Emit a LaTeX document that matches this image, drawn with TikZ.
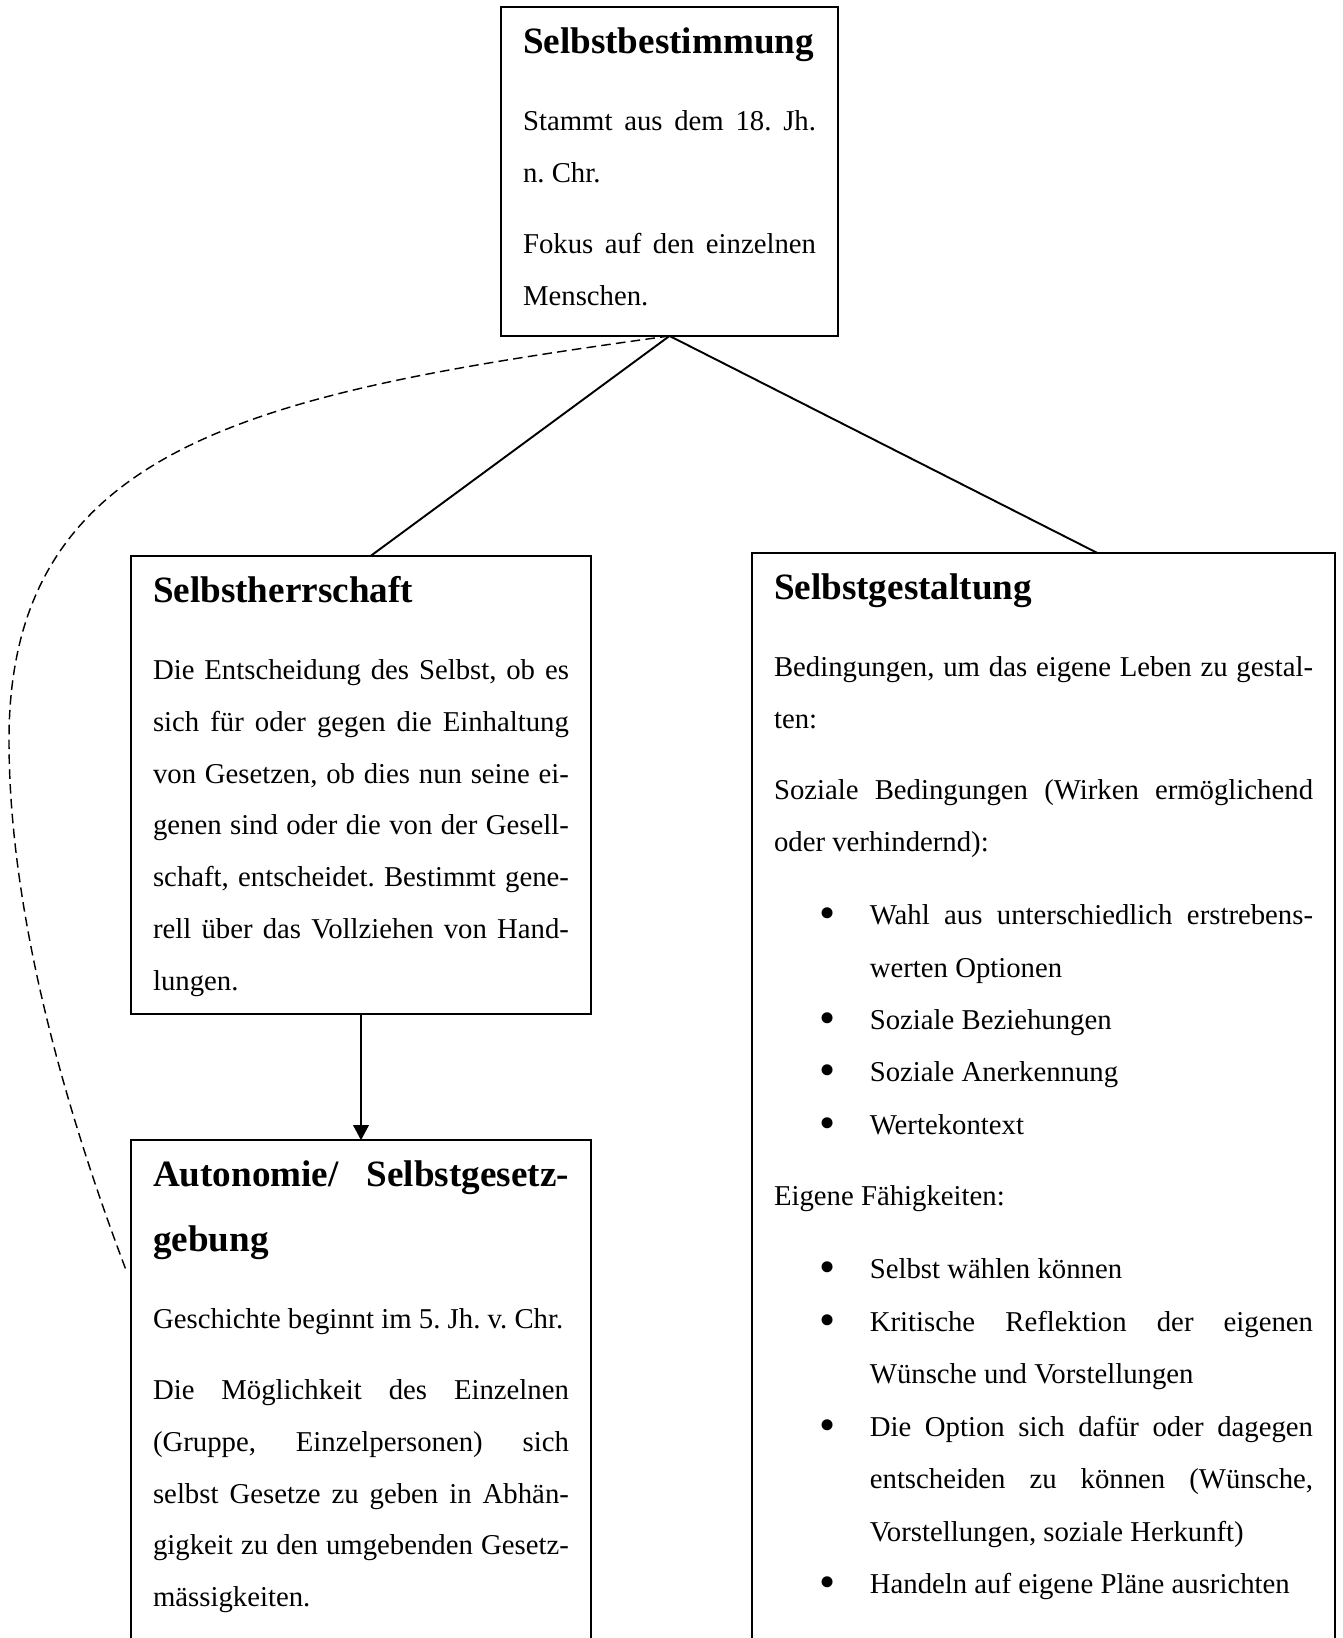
\documentclass[tikz,border=0pt]{standalone}
\usepackage{graphicx}
\usepackage{fontspec}
\setmainfont{Liberation Serif}[Ligatures={TeX,NoCommon}]
\usetikzlibrary{
  arrows.meta,
  calc,
  positioning,
}
\tikzset{
  >={Triangle[width=6.5pt, length=6.3pt]},
  kasten/.style={draw, line width=0.8pt, inner xsep=9.2pt, inner ysep=0pt,
    outer sep=0pt, anchor=north west},
  linie/.style={line width=0.8pt},
  bezug/.style={line width=0.6pt, dash pattern=on 4pt off 2.2pt},
}
\newcommand{\inhalt}[3]{\parbox[t][#2][t]{#1}{\fontsize{12}{21.6}\selectfont
  \frenchspacing\setlength{\parskip}{8pt}\hyphenpenalty=10000 #3}}
\newcommand{\titel}[1]{{\fontsize{15.5}{27.1}\selectfont\bfseries
  \rule{0pt}{19.2pt}#1\par}\vspace{2.8pt}}
\newenvironment{punkte}{\par\vspace{8.8pt}\setlength{\parskip}{0pt}%
  \setlength{\baselineskip}{21.9pt}\setlength{\leftskip}{40pt}}{\par}
\newcommand{\punkt}{\par\noindent
  \llap{\raisebox{-1.6pt}{\scalebox{1.6}{\textbullet}}\hspace{14.5pt}}}

\begin{document}
\begin{tikzpicture}
  \useasboundingbox (0, 0) rectangle (19.702, 24.030);
  \clip (0, 0) rectangle (19.702, 24.030);

  \node [kasten] (bestimmung) at (7.350, 23.927) {\inhalt{122.3pt}{137.3pt}{%
    \titel{Selbstbestimmung}
    Stammt aus dem 18. Jh.\linebreak n. Chr.\par
    Fokus auf den einzelnen\linebreak Menschen.}};

  \node [kasten] (herrschaft) at (1.922, 15.873) {\inhalt{173.6pt}{191.2pt}{%
    \titel{Selbstherrschaft}
    Die Entscheidung des Selbst, ob es\linebreak sich für oder gegen die
    Einhaltung\linebreak von Gesetzen, ob dies nun seine ei-\linebreak genen
    sind oder die von der Gesell-\linebreak schaft, entscheidet. Bestimmt
    gene-\linebreak rell über das Vollziehen von Hand-\linebreak lungen.}};

  \node [kasten, below=1.85cm of herrschaft] (autonomie) {\inhalt{173.6pt}{240pt}{%
    \titel{Autonomie/ Selbstgesetz-\linebreak gebung}
    Geschichte beginnt im 5. Jh. v. Chr.\par
    Die Möglichkeit des Einzelnen\linebreak (Gruppe, Einzelpersonen)
    sich\linebreak selbst Gesetze zu geben in Abhän-\linebreak gigkeit zu den
    umgebenden Gesetz-\linebreak mässigkeiten.}};

  \node [kasten] (gestaltung) at (11.032, 15.917) {\inhalt{225pt}{480pt}{%
    \titel{Selbstgestaltung}
    Bedingungen, um das eigene Leben zu gestal-\linebreak ten:\par
    Soziale Bedingungen (Wirken ermöglichend\linebreak oder verhindernd):
    \begin{punkte}
      \punkt Wahl aus unterschiedlich erstrebens-\linebreak werten Optionen
      \punkt Soziale Beziehungen
      \punkt Soziale Anerkennung
      \punkt Wertekontext
    \end{punkte}
    Eigene Fähigkeiten:
    \begin{punkte}
      \punkt Selbst wählen können
      \punkt Kritische Reflektion der eigenen\linebreak Wünsche und Vorstellungen
      \punkt Die Option sich dafür oder dagegen\linebreak entscheiden zu können
      (Wünsche,\linebreak Vorstellungen, soziale Herkunft)
      \punkt Handeln auf eigene Pläne ausrichten
    \end{punkte}}};

  \draw [linie] (bestimmung.south) -- ([xshift=0.14cm]herrschaft.north);
  \draw [linie] (bestimmung.south) -- ([xshift=0.79cm]gestaltung.north);
  \draw [linie, ->] (herrschaft.south) -- (autonomie.north);
  \draw [bezug] (bestimmung.south) .. controls (3.888, 18.279) and (0.132, 17.575)
    .. (0.132, 13.174) .. controls (0.132, 10.973) and (0.748, 8.303)
    .. ($(autonomie.north west) + (-0.06, -1.94)$);
\end{tikzpicture}
\end{document}
